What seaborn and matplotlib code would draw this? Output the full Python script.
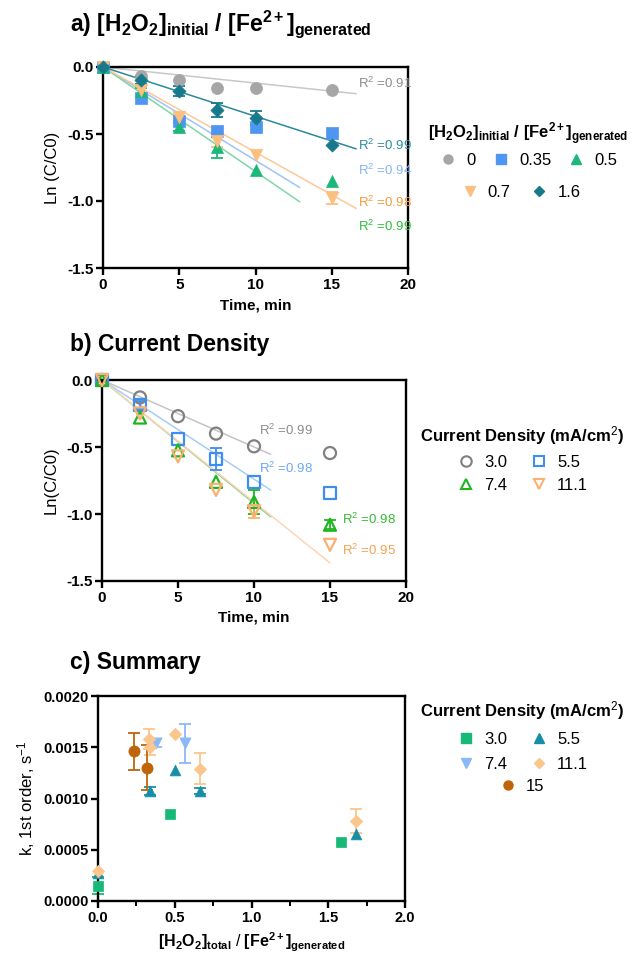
import numpy as np
import pandas as pd
import matplotlib
matplotlib.use("Agg")
import matplotlib.pyplot as plt
from matplotlib.lines import Line2D
from matplotlib.ticker import MultipleLocator, FormatStrFormatter
import seaborn as sns

sns.set_theme(style="ticks")
plt.rcParams["font.family"] = ["Liberation Sans", "DejaVu Sans"]
plt.rcParams["mathtext.fontset"] = "custom"
plt.rcParams["mathtext.rm"] = "Liberation Sans"
plt.rcParams["mathtext.it"] = "Liberation Sans:italic"
plt.rcParams["mathtext.bf"] = "Liberation Sans:bold"
for k in ["text.color", "axes.labelcolor", "xtick.color", "ytick.color",
          "axes.edgecolor"]:
    plt.rcParams[k] = "black"

# ---------------- data ----------------
time_min = [0, 2.5, 5, 7.5, 10, 15]

# panel a: ratio series
a_labels = ["0", "0.35", "0.5", "0.7", "1.6"]
a_r0 = [0, -0.065, -0.095, -0.16, -0.155, -0.175]
a_r035 = [0, -0.235, -0.405, -0.48, -0.45, -0.495]
a_r05 = [0, -0.18, -0.445, -0.60, -0.77, -0.85]
a_r07 = [0, -0.17, -0.37, -0.55, -0.66, -0.98]
a_r16 = [0, -0.10, -0.18, -0.32, -0.38, -0.58]
a_err_r0 = [0, 0, 0, 0, 0, 0]
a_err_r035 = [0, 0, 0, 0, 0, 0]
a_err_r05 = [0, 0.02, 0.03, 0.08, 0, 0]
a_err_r07 = [0, 0.03, 0.03, 0.05, 0, 0.045]
a_err_r16 = [0, 0.03, 0.04, 0.055, 0.05, 0]
a_slope = [-0.0120, -0.0697, -0.0780, -0.0636, -0.0368]
a_fit_end = [16.6, 12.9, 12.9, 16.6, 16.6]
a_r2 = ["0.91", "0.94", "0.99", "0.98", "0.99"]

# panel b: current density series
b_labels = ["3.0", "5.5", "7.4", "11.1"]
b_30 = [0, -0.13, -0.27, -0.40, -0.495, -0.545]
b_55 = [0, -0.19, -0.44, -0.59, -0.76, -0.84]
b_74 = [0, -0.28, -0.525, -0.76, -0.91, -1.08]
b_111 = [0, -0.25, -0.57, -0.82, -0.98, -1.23]
b_err_30 = [0, 0, 0, 0, 0, 0]
b_err_55 = [0, 0.03, 0, 0.085, 0, 0]
b_err_74 = [0, 0, 0, 0, 0.09, 0.035]
b_err_111 = [0, 0, 0, 0, 0.05, 0]
b_slope = [-0.050, -0.074, -0.092, -0.091]
b_fit_end = [11.1, 11.1, 11.1, 15.0]
b_r2 = ["0.99", "0.98", "0.98", "0.95"]

# panel c: summary
c_labels = ["3.0", "5.5", "7.4", "11.1", "15"]
c_30_x = [0.0, 0.47, 1.58]
c_30_k = [0.000150, 0.000845, 0.000580]
c_30_err = [0.00008, 0, 0]
c_55_x = [0.0, 0.34, 0.50, 0.665, 1.68]
c_55_k = [0.00027, 0.00107, 0.00128, 0.00107, 0.00065]
c_55_err = [0, 0.00004, 0, 0.00003, 0]
c_74_x = [0.38, 0.57]
c_74_k = [0.00154, 0.00154]
c_74_err = [0.00004, 0.00019]
c_111_x = [0.0, 0.335, 0.34, 0.50, 0.665, 1.68]
c_111_k = [0.00029, 0.00158, 0.00150, 0.00163, 0.00129, 0.00078]
c_111_err = [0, 0.0001, 0.00008, 0, 0.00015, 0.00012]
c_15_x = [0.235, 0.32]
c_15_k = [0.00146, 0.00130]
c_15_err = [0.00018, 0.00022]

# ---------------- styles ----------------
a_series = [a_r0, a_r035, a_r05, a_r07, a_r16]
a_errs = [a_err_r0, a_err_r035, a_err_r05, a_err_r07, a_err_r16]
a_marker = ["o", "s", "^", "v", "D"]
a_size = [75, 70, 75, 80, 45]
a_color = ["#a6a6a6", "#4f96f0", "#1cb77a", "#fbbf7f", "#167a8b"]
a_line = ["#c8c8c8", "#9ec5f8", "#7fd6a6", "#fdc896", "#2a8a9a"]
a_text = ["#8c8c8c", "#86b4f6", "#2fbf3a", "#f39a3a", "#2a8e9e"]
a_text_y = [-0.12, -0.775, -1.19, -1.01, -0.587]

b_series = [b_30, b_55, b_74, b_111]
b_errs = [b_err_30, b_err_55, b_err_74, b_err_111]
b_marker = ["o", "s", "^", "v"]
b_color = ["#808080", "#3d8ef0", "#1fb51f", "#f9b070"]
b_line = ["#c4c4c4", "#a8ccf7", "#8fcf8f", "#fcd6b6"]
b_text = ["#8c8c8c", "#6aa8f5", "#33bb33", "#f5a050"]
b_text_pos = [(10.3, -0.375), (10.3, -0.66), (15.8, -1.04), (15.8, -1.275)]

c_xs = [c_30_x, c_55_x, c_74_x, c_111_x, c_15_x]
c_ks = [c_30_k, c_55_k, c_74_k, c_111_k, c_15_k]
c_errs = [c_30_err, c_55_err, c_74_err, c_111_err, c_15_err]
c_marker = ["s", "^", "v", "D", "o"]
c_size = [55, 60, 65, 40, 65]
c_color = ["#17b978", "#168fa6", "#8cb8f8", "#fbc68c", "#c0640a"]

W, H = 636, 959
fig = plt.figure(figsize=(W / 100, H / 100), dpi=100)

def px_axes(l, t, r, b):
    return fig.add_axes([l / W, 1 - b / H, (r - l) / W, (b - t) / H])

ax_a = px_axes(103, 67, 408, 268)
ax_b = px_axes(102, 380, 406, 581)
ax_c = px_axes(98, 696, 405, 901)

def style_axes(ax, fs=11):
    for s in ax.spines.values():
        s.set_linewidth(1.7)
        s.set_color("black")
    ax.tick_params(axis="both", which="major", direction="out", length=5,
                   width=1.7, labelsize=fs, pad=2, colors="black")
    ax.tick_params(axis="both", which="minor", direction="out", length=3.5,
                   width=1.4)
    for lab in ax.get_xticklabels() + ax.get_yticklabels():
        lab.set_fontweight("bold")
    ax.grid(False)

def draw_errors(ax, x, y, e, color):
    x = np.asarray(x); y = np.asarray(y); e = np.asarray(e)
    m = e > 0
    if m.any():
        ax.errorbar(x[m], y[m], yerr=e[m], fmt="none", ecolor=color,
                    elinewidth=1.3, capsize=4, capthick=1.3, zorder=2,
                    clip_on=False)

# ---- panel a ----
t = np.array(time_min)
for i in range(5):
    tf = np.array([0, a_fit_end[i]])
    sns.lineplot(x=tf, y=a_slope[i] * tf, ax=ax_a, color=a_line[i],
                 linewidth=1.1, zorder=1)
    draw_errors(ax_a, t, a_series[i], a_errs[i], a_color[i])
    sns.scatterplot(x=t, y=a_series[i], ax=ax_a, marker=a_marker[i],
                    s=a_size[i], color=a_color[i], edgecolor=a_color[i],
                    linewidth=0.5, zorder=3, clip_on=False)
    ax_a.text(16.7, a_text_y[i], "R$^2$ =" + a_r2[i], color=a_text[i],
              fontsize=9.5, va="center", ha="left")
ax_a.set_xlim(0, 20)
ax_a.set_ylim(-1.5, 0.0)
ax_a.xaxis.set_major_locator(MultipleLocator(5))
ax_a.yaxis.set_major_locator(MultipleLocator(0.5))
ax_a.yaxis.set_major_formatter(FormatStrFormatter("%.1f"))
ax_a.set_xlabel("Time, min", fontsize=11, fontweight="bold", labelpad=5)
ax_a.set_ylabel("Ln (C/C0)", fontsize=12, labelpad=5)
style_axes(ax_a)

# ---- panel b ----
for i in range(4):
    tf = np.array([0, b_fit_end[i]])
    sns.lineplot(x=tf, y=b_slope[i] * tf, ax=ax_b, color=b_line[i],
                 linewidth=1.1, zorder=1)
    draw_errors(ax_b, t, b_series[i], b_errs[i], b_color[i])
    ax_b.scatter(t, b_series[i], marker=b_marker[i], s=75,
                 facecolors="none", edgecolors=b_color[i], linewidths=1.6,
                 zorder=3, clip_on=False)
    ax_b.text(b_text_pos[i][0], b_text_pos[i][1], "R$^2$ =" + b_r2[i],
              color=b_text[i], fontsize=9.5, va="center", ha="left")
ax_b.set_xlim(0, 20)
ax_b.set_ylim(-1.5, 0.0)
ax_b.xaxis.set_major_locator(MultipleLocator(5))
ax_b.yaxis.set_major_locator(MultipleLocator(0.5))
ax_b.yaxis.set_major_formatter(FormatStrFormatter("%.1f"))
ax_b.set_xlabel("Time, min", fontsize=11, fontweight="bold", labelpad=4)
ax_b.set_ylabel("Ln(C/C0)", fontsize=12, labelpad=5)
style_axes(ax_b)

# ---- panel c ----
for i in range(5):
    draw_errors(ax_c, c_xs[i], c_ks[i], c_errs[i], c_color[i])
    sns.scatterplot(x=c_xs[i], y=c_ks[i], ax=ax_c, marker=c_marker[i],
                    s=c_size[i], color=c_color[i], edgecolor=c_color[i],
                    linewidth=0.5, zorder=3, clip_on=False)
ax_c.set_xlim(0, 2.0)
ax_c.set_ylim(0, 0.0020)
ax_c.xaxis.set_major_locator(MultipleLocator(0.5))
ax_c.xaxis.set_minor_locator(MultipleLocator(0.25))
ax_c.xaxis.set_major_formatter(FormatStrFormatter("%.1f"))
ax_c.yaxis.set_major_locator(MultipleLocator(0.0005))
ax_c.yaxis.set_major_formatter(FormatStrFormatter("%.4f"))
ax_c.set_xlabel(r"$\mathbf{[H_2O_2]_{total}}$ / $\mathbf{[Fe^{2+}]_{generated}}$",
                fontsize=11.5, labelpad=4)
ax_c.set_ylabel("k, 1st order, s$^{-1}$", fontsize=12, labelpad=4)
style_axes(ax_c, fs=10.5)

# ---- titles ----
fig.text(70 / W, 1 - 24 / H,
         r"$\mathbf{a)\ [H_2O_2]_{initial}}$ / $\mathbf{[Fe^{2+}]_{generated}}$",
         fontsize=16.5, fontweight="bold", va="center", ha="left")
fig.text(70 / W, 1 - 344 / H, "b) Current Density", fontsize=16.5,
         fontweight="bold", va="center", ha="left")
fig.text(70 / W, 1 - 662 / H, "c) Summary", fontsize=16.5,
         fontweight="bold", va="center", ha="left")

# ---- legends ----
def handle(marker, color, filled=True, ms=7):
    if filled:
        return Line2D([], [], marker=marker, linestyle="", color=color,
                      markersize=ms, markeredgecolor=color)
    return Line2D([], [], marker=marker, linestyle="", color=color,
                  markerfacecolor="none", markeredgecolor=color,
                  markeredgewidth=1.5, markersize=ms)

leg_kw = dict(frameon=False, fontsize=12, handletextpad=0.5,
              handlelength=1.2, borderpad=0.2, loc="upper center")
title_fp = {"size": 12, "weight": "bold"}

a_h = [handle(a_marker[i], a_color[i], ms=6.5 if a_marker[i] != "D" else 5)
       for i in range(5)]
row1 = [0, 1, 2]
row2 = [3, 4]
leg_a1 = fig.legend([a_h[i] for i in row1], [a_labels[i] for i in row1],
                    ncol=3, bbox_to_anchor=(528 / W, 1 - 109 / H),
                    columnspacing=0.9, labelspacing=0.35,
                    title=r"$\mathbf{[H_2O_2]_{initial}}$ / $\mathbf{[Fe^{2+}]_{generated}}$",
                    title_fontproperties=title_fp, **leg_kw)
leg_a2 = fig.legend([a_h[i] for i in row2], [a_labels[i] for i in row2],
                    ncol=2, bbox_to_anchor=(520 / W, 1 - 173 / H),
                    columnspacing=1.1, **leg_kw)

b_h = [handle(b_marker[i], b_color[i], filled=False, ms=7.5) for i in range(4)]
order_b = [0, 2, 1, 3]
leg_b = fig.legend([b_h[i] for i in order_b], [b_labels[i] for i in order_b],
                   ncol=2, bbox_to_anchor=(522 / W, 1 - 412 / H),
                   columnspacing=1.3, labelspacing=0.5,
                   title="Current Density (mA/cm$^2$)",
                   title_fontproperties=title_fp, **leg_kw)

c_h = [handle(c_marker[i], c_color[i], ms=6.5 if c_marker[i] != "D" else 5)
       for i in range(5)]
order_c = [0, 2, 1, 3]
leg_c1 = fig.legend([c_h[i] for i in order_c], [c_labels[i] for i in order_c],
                    ncol=2, bbox_to_anchor=(522 / W, 1 - 687 / H),
                    columnspacing=1.3, labelspacing=0.6,
                    title="Current Density (mA/cm$^2$)",
                    title_fontproperties=title_fp, **leg_kw)
leg_c2 = fig.legend([c_h[4]], [c_labels[4]], ncol=1,
                    bbox_to_anchor=(521 / W, 1 - 767 / H), **leg_kw)

fig.savefig("out.png", dpi=100, facecolor="white")
